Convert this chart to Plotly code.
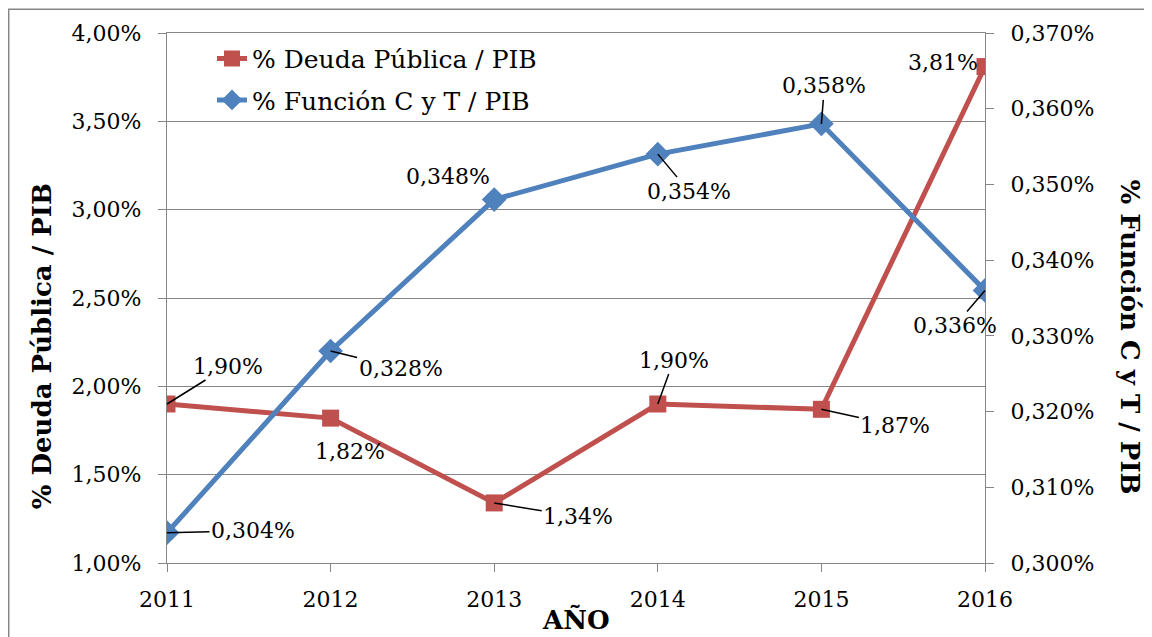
import plotly.graph_objects as go

years = [2011, 2012, 2013, 2014, 2015, 2016]
deuda = [1.90, 1.82, 1.34, 1.90, 1.87, 3.81]
funcion = [0.304, 0.328, 0.348, 0.354, 0.358, 0.336]
deuda_labels = ["1,90%", "1,82%", "1,34%", "1,90%", "1,87%", "3,81%"]
funcion_labels = ["0,304%", "0,328%", "0,348%", "0,354%", "0,358%", "0,336%"]

RED = "#C0504D"
BLUE = "#4F81BD"
GRAY = "#868686"
FONT = "DejaVu Serif"

fig = go.Figure()
fig.add_trace(go.Scatter(
    x=years, y=deuda, name="% Deuda Pública / PIB", mode="lines+markers",
    line=dict(color=RED, width=5), marker=dict(symbol="square", size=17, color=RED),
    legendgroup="a", yaxis="y"))
fig.add_trace(go.Scatter(
    x=years, y=funcion, name="% Función C y T / PIB", mode="lines+markers",
    line=dict(color=BLUE, width=5), marker=dict(symbol="diamond", size=19, color=BLUE),
    legendgroup="b", yaxis="y2"))

# label placement (pixel offsets): (ax, ay, leader)
deuda_pos = [(61, -38, True), (19, 33, False), (84, 14, True), (16, -44, True), (74, 16, True), (-42, -4, False)]
funcion_pos = [(86, -2, True), (70, 17, True), (-46, -23, False), (31, 37, True), (3, -38, True), (-30, 35, True)]

annotations = []
def add_labels(xs, ys, labels, pos, yref):
    for x, y, t, (ax, ay, lead) in zip(xs, ys, labels, pos):
        if lead:
            annotations.append(dict(x=x, y=y, xref="x", yref=yref, text=t, showarrow=True,
                                    arrowhead=0, arrowwidth=1.5, arrowcolor="black",
                                    ax=ax, ay=ay, standoff=0,
                                    font=dict(family=FONT, size=22, color="black")))
        else:
            annotations.append(dict(x=x, y=y, xref="x", yref=yref, text=t, showarrow=False,
                                    xshift=ax, yshift=-ay,
                                    font=dict(family=FONT, size=22, color="black")))

add_labels(years, deuda, deuda_labels, deuda_pos, "y")
add_labels(years, funcion, funcion_labels, funcion_pos, "y2")

annotations += [
    dict(text="<b>% Deuda Pública / PIB</b>", x=-0.1528, y=0.409, xref="paper", yref="paper",
         xanchor="center", yanchor="middle",
         showarrow=False, textangle=-90, font=dict(family=FONT, size=26, color="black")),
    dict(text="<b>% Función C y T / PIB</b>", x=1.177, y=0.426, xref="paper", yref="paper",
         xanchor="center", yanchor="middle",
         showarrow=False, textangle=90, font=dict(family=FONT, size=26, color="black")),
    dict(text="<b>AÑO</b>", x=0.5, y=-0.1075, xref="paper", yref="paper",
         xanchor="center", yanchor="middle",
         showarrow=False, font=dict(family=FONT, size=26, color="black")),
]

fig.update_layout(
    width=1152, height=637,
    margin=dict(l=159, r=175, t=25, b=82),
    paper_bgcolor="white", plot_bgcolor="white",
    separators=",.",
    font=dict(family=FONT, size=22, color="black"),
    showlegend=True,
    legend=dict(x=0.055, y=0.995, xanchor="left", yanchor="top", bgcolor="rgba(0,0,0,0)",
                font=dict(family=FONT, size=25, color="black"), tracegroupgap=6),
    xaxis=dict(range=[2011, 2016], tickvals=years, showgrid=False, zeroline=False,
               showline=True, linecolor=GRAY, linewidth=1.3, mirror=True,
               ticks="outside", ticklen=8, tickcolor=GRAY, tickwidth=1.3,
               ticklabelstandoff=8, tickfont=dict(family=FONT, size=22)),
    yaxis=dict(range=[1, 4], dtick=0.5, tickformat=".2f", ticksuffix="%",
               showgrid=True, gridcolor=GRAY, gridwidth=1.3, zeroline=False,
               showline=True, linecolor=GRAY, linewidth=1.3,
               ticks="outside", ticklen=8, tickcolor=GRAY, tickwidth=1.3,
               ticklabelstandoff=12, tickfont=dict(family=FONT, size=22)),
    yaxis2=dict(range=[0.300, 0.370], dtick=0.01, tickformat=".3f", ticksuffix="%",
                overlaying="y", side="right", showgrid=False, zeroline=False,
                showline=True, linecolor=GRAY, linewidth=1.3,
                ticks="outside", ticklen=8, tickcolor=GRAY, tickwidth=1.3,
                ticklabelstandoff=12, tickfont=dict(family=FONT, size=22)),
    annotations=annotations,
    shapes=[dict(type="rect", xref="paper", yref="paper", x0=-0.1935, x1=1.25, y0=-0.2, y1=1.045,
                 line=dict(color=GRAY, width=1.5), fillcolor="rgba(0,0,0,0)", layer="below")],
)

fig.write_html("out.html")
